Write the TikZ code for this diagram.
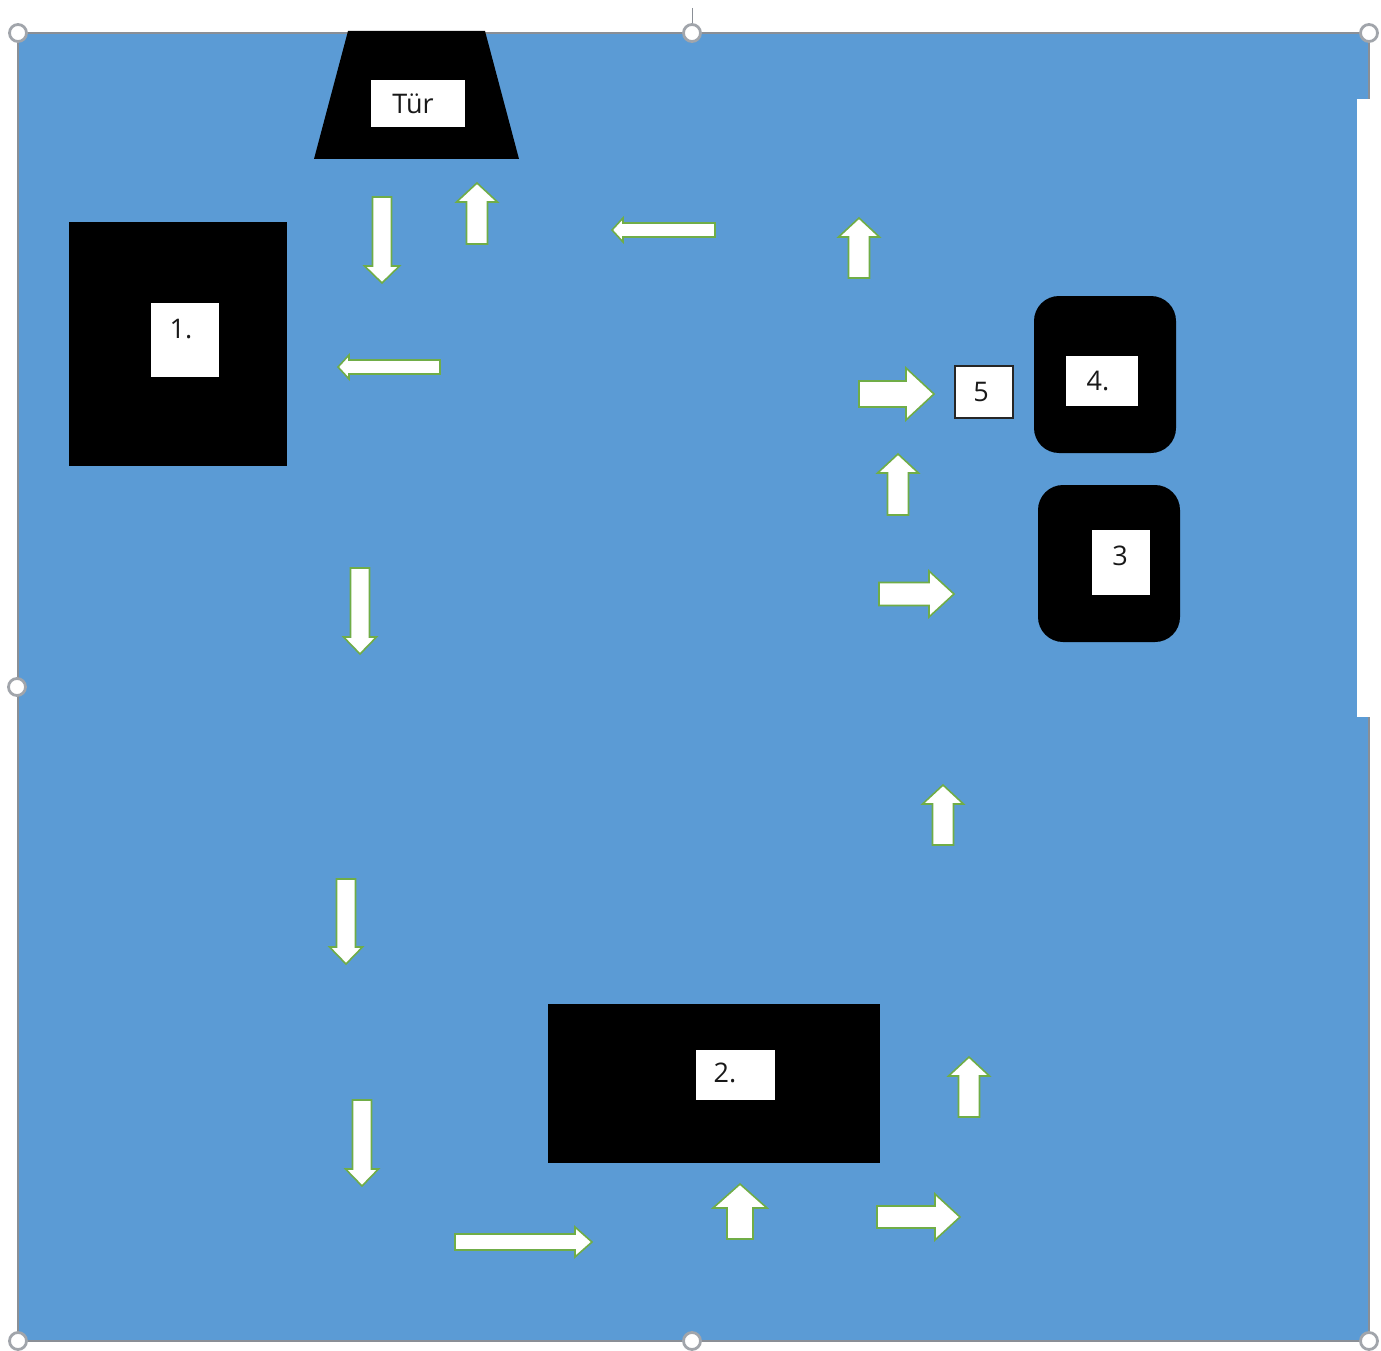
\documentclass[tikz,border=0pt]{standalone}
\usepackage{fontspec}
\setmainfont{Open Sans}
\usepackage{xcolor}
\definecolor{roomblue}{HTML}{5B9BD5}
\definecolor{framegray}{HTML}{8A8F96}
\definecolor{arrowgreen}{HTML}{70AD47}
\tikzset{
  label/.style={text=black!90,inner sep=0pt,font=\fontsize{27}{27}\selectfont},
  flowarrow/.style={fill=white,draw=arrowgreen,line width=1.6pt,line join=miter},
  handle/.style={circle,fill=white,draw=framegray!80,line width=2.8pt,minimum size=17pt,inner sep=0pt}
}
\begin{document}
\begin{tikzpicture}[x=1pt,y=-1pt]
    \useasboundingbox (0,0) rectangle (1381,1351);
    % room and selection frame
    \fill[white] (0,0) rectangle (1381,1351);
    \draw[fill=roomblue,draw=framegray,line width=2.6pt] (18,33) rectangle (1369,1341);
    \fill[white] (1357,99) rectangle (1381,717);
    \coordinate (rotatetop) at (692,8);
    \foreach \n/\x/\y in {tl/18/33,tm/692/33,tr/1369/33,ml/17/687,bl/18/1341,bm/692/1341,br/1369/1341}
      \node[handle] (h\n) at (\x,\y) {};
    \draw[framegray,line width=1pt] (rotatetop) -- (htm);
    % door
    \fill[black] (348,31) -- (485,31) -- (519,159) -- (314,159) -- cycle;
    \fill[white] (371,80) rectangle (465,127);
    \node[label] (door) at (413,103.5) {Tür};
    % furniture
    \fill[black] (69,222) rectangle (287,466);
    \fill[white] (151,303) rectangle (219,377);
    \node[label] (one) at (181,329) {1.};
    \fill[black] (548,1004) rectangle (880,1163);
    \fill[white] (696,1050) rectangle (775,1100);
    \node[label] (two) at (725,1073) {2.};
    \fill[black,rounded corners=25pt] (1034,296) rectangle (1176,453);
    \fill[white] (1066,356) rectangle (1138,406);
    \node[label] (four) at (1098,381) {4.};
    \fill[black,rounded corners=25pt] (1038,485) rectangle (1180,642);
    \fill[white] (1092,530) rectangle (1150,595);
    \node[label] (three) at (1120,556) {3};
    \draw[fill=white,draw=black!85,line width=1.8pt] (955,366) rectangle (1013,418);
    \node[label] (five) at (981,392) {5};
    % route: tail x/y, angle, length, half shaft, half head, head length
    \foreach \x/\y/\r/\l/\s/\h/\t in {
      382/197/-90/86/9.5/17.5/17,
      477/244/90/61/10.5/20.5/19,
      715/230/180/103/7/12/11,
      859/278/90/60/10.5/20.5/19,
      440/367/180/102/7/12/11,
      859/394/0/75/13/26/28,
      898/515/90/61/10.5/20.5/19,
      879/594/0/75/11.5/23/25,
      360/568/-90/86/9.5/16.5/17,
      346/879/-90/85/9.5/16.5/17,
      362/1100/-90/86/9.5/16.5/17,
      455/1242/0/137/8/15/17,
      740/1239/90/55/13/27/24,
      877/1217/0/83/11/23/25,
      969/1117/90/60/10.5/20.5/19,
      943/845/90/60/10.5/20.5/19}
      \draw[flowarrow,shift={(\x,\y)},rotate=\r]
        (0,-\s) -- (\l-\t,-\s) -- (\l-\t,-\h) -- (\l,0) -- (\l-\t,\h) -- (\l-\t,\s) -- (0,\s) -- cycle;
\end{tikzpicture}
\end{document}
